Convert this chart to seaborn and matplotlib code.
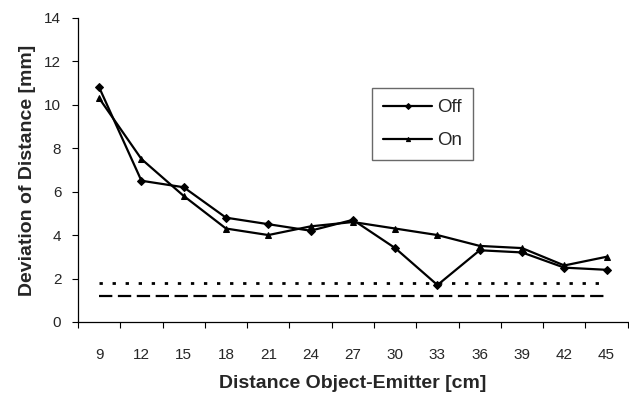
import matplotlib
matplotlib.use("Agg")
import matplotlib.pyplot as plt
import seaborn as sns
import pandas as pd
import numpy as np

categories = ["9", "12", "15", "18", "21", "24", "27", "30", "33", "36", "39", "42", "45"]
off_values = [10.8, 6.5, 6.2, 4.8, 4.5, 4.2, 4.7, 3.4, 1.7, 3.3, 3.2, 2.5, 2.4]
on_values = [10.3, 7.5, 5.8, 4.3, 4.0, 4.4, 4.6, 4.3, 4.0, 3.5, 3.4, 2.6, 3.0]
dotted_level = 1.8
dashed_level = 1.2
y_ticks = [0, 2, 4, 6, 8, 10, 12, 14]

sns.set_theme(style="white")
plt.rcParams['font.family'] = ['Liberation Sans', 'DejaVu Sans']

fig = plt.figure(figsize=(6.29, 3.96), dpi=100)
ax = fig.add_axes([0.124, 0.187, 0.874, 0.768])

pos = np.arange(len(categories))
df = pd.DataFrame({"pos": np.concatenate([pos, pos]),
                   "val": off_values + on_values,
                   "series": ["Off"] * len(pos) + ["On"] * len(pos)})

sns.lineplot(data=df, x="pos", y="val", hue="series", style="series",
             markers={"Off": "D", "On": "^"}, dashes=False,
             palette={"Off": "black", "On": "black"},
             markersize=4.5, linewidth=1.6, markeredgecolor="black", ax=ax)

ax.plot([pos[0], pos[-1]], [dotted_level] * 2, color="black", lw=2.0,
        linestyle=(0, (1.2, 3.5)))
ax.plot([pos[0], pos[-1]], [dashed_level] * 2, color="black", lw=1.6,
        linestyle=(0, (6, 2.5)))

ax.set_xlim(-0.5, len(categories) - 0.5)
ax.set_ylim(0, 14)
ax.set_yticks(y_ticks)
ax.set_yticklabels([str(t) for t in y_ticks], fontsize=11)

ax.set_xticks(np.arange(-0.5, len(categories), 1.0))
ax.set_xticklabels([])
ax.set_xticks(pos, minor=True)
ax.set_xticklabels(categories, minor=True, fontsize=11)
ax.tick_params(axis="x", which="minor", length=0, pad=19)
ax.tick_params(axis="x", which="major", direction="out", length=4, width=0.8,
               color="black", bottom=True)
ax.tick_params(axis="y", direction="out", length=4, width=0.8, color="black",
               left=True, pad=8)

for s in ["top", "right"]:
    ax.spines[s].set_visible(False)
for s in ["left", "bottom"]:
    ax.spines[s].set_color("black")
    ax.spines[s].set_linewidth(0.9)

ax.set_xlabel("Distance Object-Emitter [cm]", fontsize=14, fontweight="bold", labelpad=9)
ax.set_ylabel("Deviation of Distance [mm]", fontsize=14, fontweight="bold", labelpad=6)

leg = ax.legend(loc="upper left", bbox_to_anchor=(0.535, 0.77), fontsize=13.5,
                frameon=True, fancybox=False, edgecolor="#444444",
                handlelength=2.6, handletextpad=0.25, borderpad=0.6,
                labelspacing=0.85, borderaxespad=0)
leg.get_frame().set_linewidth(1.0)
for h in leg.legend_handles:
    h.set_markersize(3)

fig.savefig("out.png", dpi=100)
